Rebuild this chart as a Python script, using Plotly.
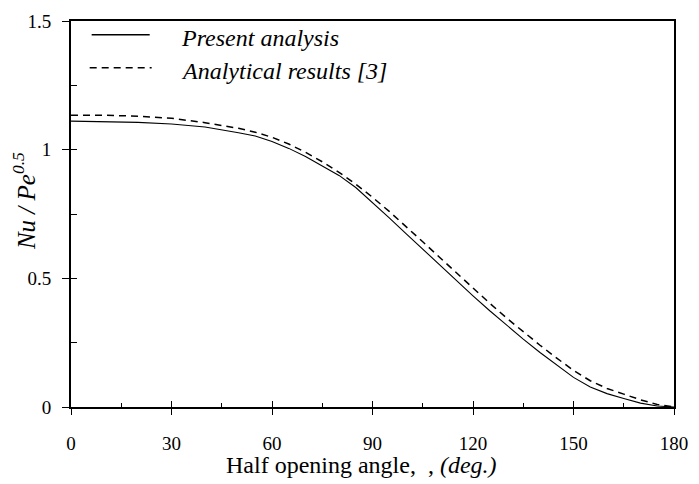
import plotly.graph_objects as go

# Data
angle = [0, 10, 20, 30, 40, 50, 55, 60, 65, 70, 75, 80, 85, 90, 95, 100, 105, 110,
         115, 120, 125, 130, 135, 140, 145, 150, 155, 160, 165, 170, 175, 180]
present = [1.111, 1.108, 1.106, 1.100, 1.088, 1.066, 1.053, 1.032, 1.005, 0.973, 0.937,
           0.900, 0.853, 0.795, 0.735, 0.674, 0.613, 0.552, 0.492, 0.432, 0.374, 0.318,
           0.264, 0.212, 0.163, 0.115, 0.078, 0.052, 0.033, 0.015, 0.004, 0.0]
analytical = [1.134, 1.134, 1.130, 1.122, 1.105, 1.083, 1.068, 1.048, 1.022, 0.990, 0.953,
              0.912, 0.866, 0.815, 0.760, 0.702, 0.642, 0.582, 0.522, 0.462, 0.403, 0.346,
              0.292, 0.240, 0.190, 0.142, 0.102, 0.072, 0.050, 0.028, 0.010, 0.0]
xticks = [0, 30, 60, 90, 120, 150, 180]
yticks = [0, 0.5, 1, 1.5]
yticklabels = ["0", "0.5", "1", "1.5"]
legend_names = ["Present analysis", "Analytical results [3]"]
x_title = "Half opening angle,  , <i>(deg.)</i>"
y_title = "<i>Nu / Pe<sup>0.5</sup></i>"

FONT = "Liberation Serif"

fig = go.Figure()
fig.add_trace(go.Scatter(x=angle, y=present, mode="lines", name=legend_names[0],
                         line=dict(color="black", width=1.1), showlegend=False))
fig.add_trace(go.Scatter(x=angle, y=analytical, mode="lines", name=legend_names[1],
                         line=dict(color="black", width=1.5, dash="7px,5px"), showlegend=False))
# helper trace for overlay axes (invisible)
fig.add_trace(go.Scatter(x=[None], y=[None], xaxis="x2", yaxis="y2", showlegend=False,
                         hoverinfo="skip"))

fig.update_layout(
    width=699, height=484,
    margin=dict(l=71, r=15, t=11, b=77),
    paper_bgcolor="white", plot_bgcolor="white",
    font=dict(family=FONT, color="black", size=19),
    xaxis=dict(range=[0, 180], tickvals=xticks, ticktext=[str(v) for v in xticks],
               ticks="outside", ticklen=6, tickwidth=1, tickcolor="black",
               showline=True, linecolor="black", linewidth=1.5, mirror=True,
               showgrid=False, zeroline=False, ticklabelstandoff=12,
               tickfont=dict(family=FONT, size=19)),
    yaxis=dict(range=[0, 1.5], tickvals=yticks, ticktext=yticklabels,
               ticks="outside", ticklen=7, tickwidth=1, tickcolor="black",
               showline=True, linecolor="black", linewidth=2, mirror=True,
               showgrid=False, zeroline=False, ticklabelstandoff=7,
               tickfont=dict(family=FONT, size=19)),
    xaxis2=dict(range=[0, 180], overlaying="x", anchor="y2", side="bottom",
                tickvals=xticks, ticks="inside", ticklen=6, tickwidth=1, tickcolor="black",
                showticklabels=False, showline=False, showgrid=False, zeroline=False,
                minor=dict(tickvals=[15, 45, 75, 105, 135, 165], ticks="inside", ticklen=4,
                           tickwidth=1, tickcolor="black", showgrid=False)),
    yaxis2=dict(range=[0, 1.5], overlaying="y", anchor="x2", side="left",
                tickvals=yticks, ticks="inside", ticklen=6, tickwidth=1, tickcolor="black",
                showticklabels=False, showline=False, showgrid=False, zeroline=False,
                minor=dict(tickvals=[0.25, 0.75, 1.25], ticks="inside", ticklen=6,
                           tickwidth=1, tickcolor="black", showgrid=False)),
)

W = 699 - 71 - 15
H = 484 - 11 - 77
def px_x(p):
    return (p - 71) / W
def px_y(p):
    return (484 - 77 - p) / H

# Axis titles
fig.add_annotation(xref="paper", yref="paper", x=px_x(366), y=px_y(466),
                   text=x_title, showarrow=False, xanchor="center", yanchor="middle",
                   font=dict(family=FONT, size=24))
fig.add_annotation(xref="paper", yref="paper", x=px_x(24), y=px_y(196),
                   text=y_title, showarrow=False, xanchor="center", yanchor="middle",
                   textangle=-90, font=dict(family=FONT, size=25))

# Legend drawn manually (line samples + labels)
fig.add_shape(type="line", xref="paper", yref="paper",
              x0=px_x(92), x1=px_x(151), y0=px_y(25), y1=px_y(25),
              line=dict(color="black", width=1.5))
fig.add_shape(type="line", xref="paper", yref="paper",
              x0=px_x(90), x1=px_x(153), y0=px_y(59), y1=px_y(59),
              line=dict(color="black", width=1.5, dash="7px,5px"))
fig.add_annotation(xref="paper", yref="paper", x=px_x(181), y=px_y(28),
                   text="<i>" + legend_names[0] + "</i>", showarrow=False,
                   xanchor="left", yanchor="middle", font=dict(family=FONT, size=24))
fig.add_annotation(xref="paper", yref="paper", x=px_x(181), y=px_y(62),
                   text="<i>" + legend_names[1] + "</i>", showarrow=False,
                   xanchor="left", yanchor="middle", font=dict(family=FONT, size=24))

fig.write_html("out.html")
